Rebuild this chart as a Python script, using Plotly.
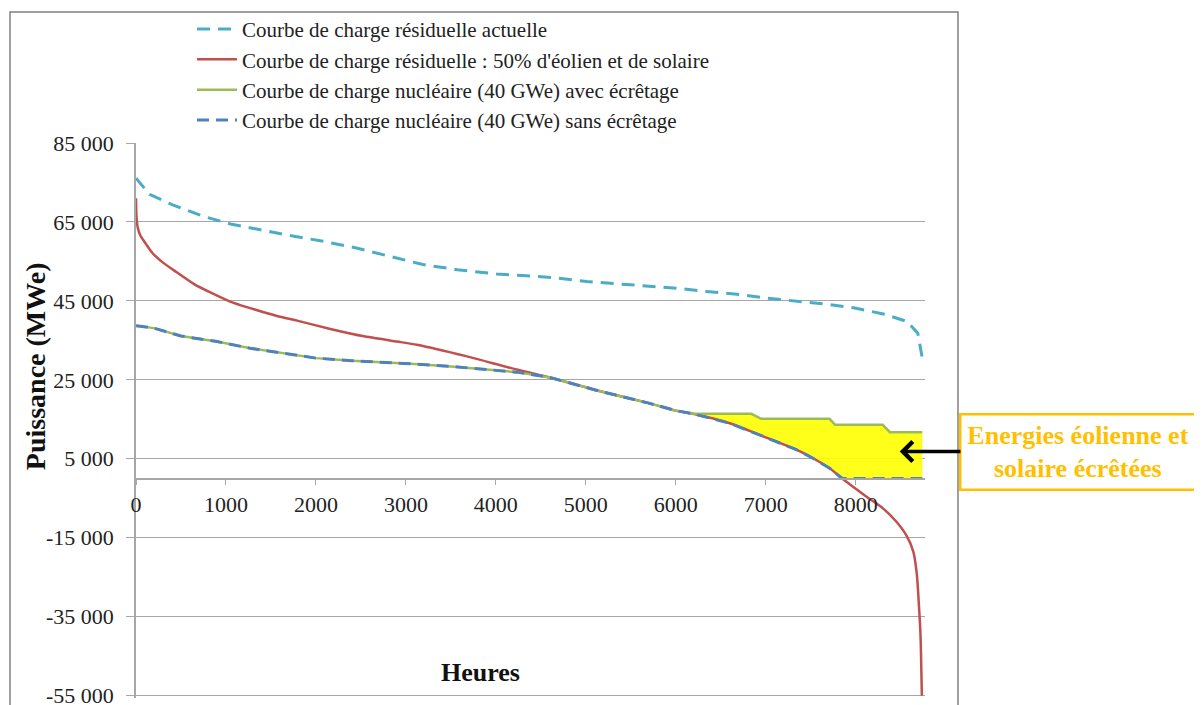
import plotly.graph_objects as go

# ---------------- data ----------------
hours_actuelle = [0, 150, 400, 750, 1050, 1350, 1700, 2080, 2450, 2820, 3190, 3570, 4010,
                  4340, 4680, 5010, 5340, 5680, 6010, 6340, 6680, 7010, 7340, 7660, 7990,
                  8320, 8570, 8690, 8740]
actuelle = [76100, 72000, 69400, 66400, 64500, 63100, 61600, 60100, 58400, 56300, 54200,
            52900, 51800, 51400, 50800, 49900, 49400, 48800, 48200, 47400, 46700, 45700,
            45000, 44200, 43200, 41600, 39800, 36800, 30500]

hours_res50 = [0, 5, 20, 50, 100, 180, 300, 450, 650, 850, 1040, 1250, 1410, 1600, 1790,
               2160, 2520, 2900, 3120, 3670, 4230, 4600, 4970, 5160, 5700, 6000, 6190, 6600,
               6970, 7340, 7520, 7710, 7850, 8120, 8300, 8450, 8560, 8640, 8680, 8700, 8720,
               8735]
res50 = [71000, 66500, 63500, 61500, 59800, 57200, 54700, 52300, 49200, 46900, 44900, 43300,
         42200, 41000, 40000, 37900, 36100, 34700, 33900, 31000, 27600, 25600, 23300, 22100,
         19100, 17200, 16400, 14000, 10700, 7300, 5200, 2600, 0, -4600, -7500, -10900,
         -14300, -18500, -24400, -31200, -39600, -55000]

hours_avec = [0, 200, 500, 900, 1270, 1640, 2000, 2400, 2750, 3100, 3500, 3860, 4230, 4600,
              4970, 5160, 5700, 6000, 6190, 6840, 6950, 7710, 7770, 8300, 8380, 8740]
avec = [38700, 38100, 36100, 34700, 33000, 31800, 30500, 29850, 29500, 29000, 28400, 27700,
        26950, 25600, 23300, 22100, 19100, 17200, 16400, 16400, 15130, 15130, 13610, 13610,
        11740, 11740]

hours_sans = [0, 200, 500, 900, 1270, 1640, 2000, 2400, 2750, 3100, 3500, 3860, 4230, 4600,
              4970, 5160, 5700, 6000, 6190, 6600, 6970, 7340, 7520, 7710, 7850, 8740]
sans = [38700, 38100, 36100, 34700, 33000, 31800, 30500, 29850, 29500, 29000, 28400, 27700,
        26950, 25600, 23300, 22100, 19100, 17200, 16400, 14000, 10700, 7300, 5200, 2600, 0, 0]

y_tickvals = [85000, 65000, 45000, 25000, 5000, -15000, -35000, -55000]
y_ticktext = ["85 000", "65 000", "45 000", "25 000", "5 000", "-15 000", "-35 000", "-55 000"]
x_tickvals = [0, 1000, 2000, 3000, 4000, 5000, 6000, 7000, 8000]
x_ticktext = ["0", "1000", "2000", "3000", "4000", "5000", "6000", "7000", "8000"]

legend_names = [
    "Courbe de charge résiduelle actuelle",
    "Courbe de charge résiduelle : 50% d'éolien et de solaire",
    "Courbe de charge nucléaire (40 GWe) avec écrêtage",
    "Courbe de charge nucléaire (40 GWe) sans écrêtage",
]
clip_start = 6190  # hour where clipping begins

# ---------------- figure ----------------
SERIF = "Liberation Serif"
fig = go.Figure()

# yellow clipped-energy area (between green and blue curves after clip_start)
i_a = hours_avec.index(clip_start)
i_s = hours_sans.index(clip_start)
poly_x = hours_avec[i_a:] + hours_sans[i_s:][::-1]
poly_y = avec[i_a:] + sans[i_s:][::-1]
fig.add_trace(go.Scatter(x=poly_x, y=poly_y, fill="toself", mode="lines",
                         fillcolor="rgba(255,255,0,0.9)", line=dict(width=0),
                         showlegend=False, hoverinfo="skip"))

fig.add_trace(go.Scatter(x=hours_res50, y=res50, mode="lines", name=legend_names[1],
                         line=dict(color="#C0504D", width=2.5, shape="spline", smoothing=0.6),
                         legendrank=2))
fig.add_trace(go.Scatter(x=hours_avec, y=avec, mode="lines", name=legend_names[2],
                         line=dict(color="#9BBB59", width=2.5), legendrank=3))
fig.add_trace(go.Scatter(x=hours_sans, y=sans, mode="lines", name=legend_names[3],
                         line=dict(color="#4F81BD", width=3, dash="12px,7px"), legendrank=4))
fig.add_trace(go.Scatter(x=hours_actuelle, y=actuelle, mode="lines", name=legend_names[0],
                         line=dict(color="#4BACC6", width=3, dash="13px,8px"), legendrank=1))

ymin, ymax = -55600, 85000
plot_h = 697 - 135 - 7.4
fig.update_layout(
    width=1194, height=697,
    margin=dict(l=128, r=277, t=135, b=7.4, autoexpand=False),
    paper_bgcolor="white", plot_bgcolor="white",
    font=dict(family=SERIF, size=21, color="#222222"),
    showlegend=True,
    legend=dict(x=0.071, y=1 + 134 / plot_h, xanchor="left", yanchor="top",
                bgcolor="rgba(0,0,0,0)", font=dict(family=SERIF, size=21, color="#222222"),
                itemwidth=40, tracegroupgap=0),
    xaxis=dict(range=[0, 8770], anchor="free", position=(0 - ymin) / (ymax - ymin),
               showline=True, linecolor="#A6A6A6", linewidth=1.5,
               ticks="outside", ticklen=6, tickcolor="#A6A6A6",
               tickvals=x_tickvals, ticktext=x_ticktext, showgrid=False, zeroline=False,
               tickfont=dict(family=SERIF, size=22, color="#222222")),
    yaxis=dict(range=[ymin, ymax], showline=True, linecolor="#A6A6A6", linewidth=1.5,
               ticks="outside", ticklen=8, tickcolor="#A6A6A6",
               tickvals=y_tickvals, ticktext=y_ticktext, showgrid=True,
               gridcolor="#A6A6A6", gridwidth=1, zeroline=False, ticklabelstandoff=8,
               ticklabeloverflow="allow",
               tickfont=dict(family=SERIF, size=22, color="#222222")),
)

bottom = 697 - 7.4  # plot bottom in figure pixels


def py(pix):
    """figure-pixel y -> paper coordinate"""
    return (bottom - pix) / plot_h


# outer frame
fig.add_shape(type="rect", xref="paper", yref="paper", x0=-0.1597, x1=1.0418,
              y0=-0.1, y1=py(4), line=dict(color="#808080", width=1.5),
              fillcolor="rgba(0,0,0,0)", layer="below")

# axis titles
fig.add_annotation(text="<b>Puissance (MWe)</b>", xref="paper", yref="paper",
                   x=-0.128, y=py(358), xanchor="center", yanchor="middle",
                   textangle=-90, showarrow=False,
                   font=dict(family=SERIF, size=28, color="#111111"))
fig.add_annotation(text="<b>Heures</b>", xref="paper", yref="paper",
                   x=0.436, y=py(664), xanchor="center", yanchor="middle", showarrow=False,
                   font=dict(family=SERIF, size=26, color="#111111"))

# clipped energies callout
fig.add_annotation(text="<b>Energies éolienne et<br>solaire écrêtées</b>",
                   x=8489, y=6845, xref="x", yref="y", ax=178.5, ay=0,
                   showarrow=True, arrowhead=4, arrowsize=1.1, arrowwidth=3.5,
                   arrowcolor="black", width=225, height=65, borderpad=4,
                   bordercolor="#FFC000", borderwidth=2.5, bgcolor="white",
                   font=dict(family=SERIF, size=26, color="#FFC000"), align="center")

fig.write_html("out.html")
